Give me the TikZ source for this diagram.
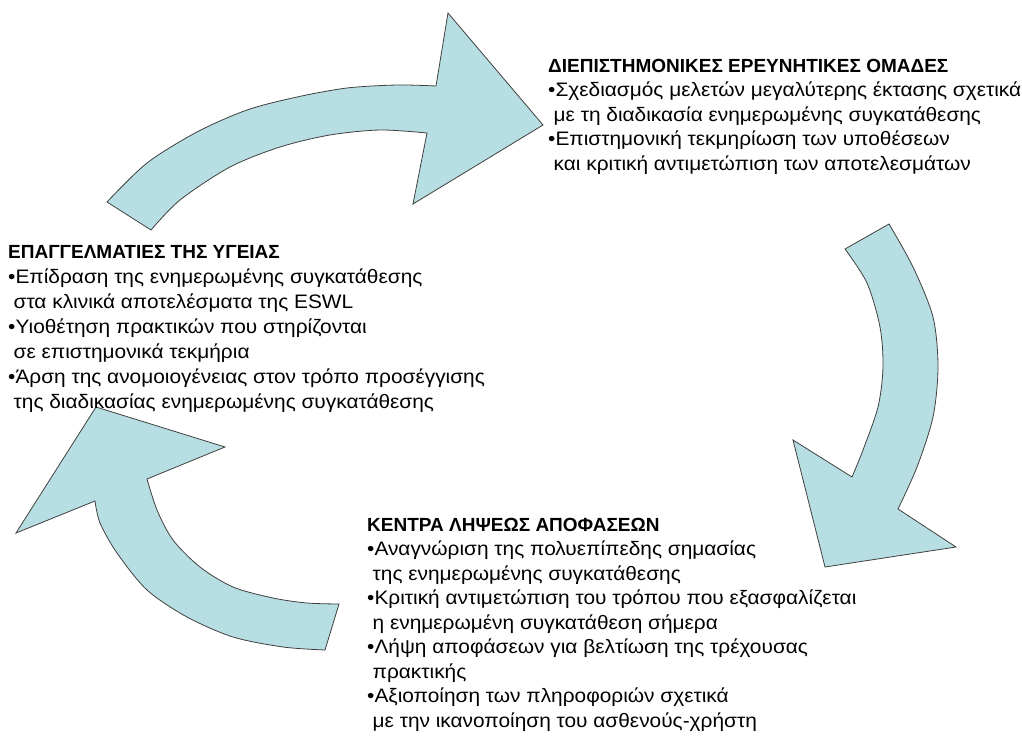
\documentclass[tikz,border=0pt]{standalone}
\usepackage{fontspec}
\setmainfont{Liberation Sans}[FakeStretch=1.07]
\newfontfamily\headfont{Liberation Sans}
\usetikzlibrary{positioning}
\definecolor{arrowfill}{RGB}{183,222,226}
\definecolor{arrowline}{RGB}{64,64,64}
\tikzset{
    cyclearrow/.style={fill=arrowfill, draw=arrowline, line width=0.8pt, line join=miter},
    infoblock/.style={anchor=north west, inner sep=0pt, align=left, font=\fontsize{19.5}{24.5}\selectfont}
}
\newcommand{\cont}{\hspace*{0.28em}}
\newcommand{\heading}[1]{{\headfont\bfseries\fontsize{19}{24}\selectfont #1}}

\begin{document}
\begin{tikzpicture}[x=1pt, y=-1pt]
    \useasboundingbox (0,0) rectangle (1022,738);

    \draw[cyclearrow] (107,202) -- plot[smooth] coordinates {(107,202) (147,163) (197,132) (247,110) (297,97) (347,88) (397,85) (436,86)}
        -- (448,13) -- (543,125) -- (413,204) -- (427,133)
        -- plot[smooth] coordinates {(427,133) (380,130) (330,135) (280,147) (230,167) (180,200) (151,230)} -- cycle;

    \draw[cyclearrow] (889,224) -- plot[smooth] coordinates {(889,224) (913,267) (933,317) (938,367) (933,417) (917,467) (898,509)}
        -- (956,547) -- (825,567) -- (793,440) -- (852,477)
        -- plot[smooth] coordinates {(852,477) (863,450) (878,407) (883,367) (880,327) (867,283) (845,249)} -- cycle;

    \draw[cyclearrow] (339,604) -- plot[smooth] coordinates {(339,604) (307,603) (273,598) (233,587) (200,567) (173,540) (157,510) (147,479)}
        -- (225,447) -- (96,407) -- (16,533) -- (95,501)
        -- plot[smooth] coordinates {(95,501) (100,523) (117,553) (147,590) (187,617) (233,637) (283,647) (325,650)} -- cycle;

    \node[infoblock] (research) at (548,59) {\heading{ΔΙΕΠΙΣΤΗΜΟΝΙΚΕΣ ΕΡΕΥΝΗΤΙΚΕΣ ΟΜΑΔΕΣ}\\
        •Σχεδιασμός μελετών μεγαλύτερης έκτασης σχετικά\\
        \cont με τη διαδικασία ενημερωμένης συγκατάθεσης\\
        •Επιστημονική τεκμηρίωση των υποθέσεων\\
        \cont και κριτική αντιμετώπιση των αποτελεσμάτων};

    \node[infoblock, font=\fontsize{19.5}{25}\selectfont] (health) at (8,245) {\heading{ΕΠΑΓΓΕΛΜΑΤΙΕΣ ΤΗΣ ΥΓΕΙΑΣ}\\
        •Επίδραση της ενημερωμένης συγκατάθεσης\\
        \cont στα κλινικά αποτελέσματα της ESWL\\
        •Υιοθέτηση πρακτικών που στηρίζονται\\
        \cont σε επιστημονικά τεκμήρια\\
        •Άρση της ανομοιογένειας στον τρόπο προσέγγισης\\
        \cont της διαδικασίας ενημερωμένης συγκατάθεσης};

    \node[infoblock] (decision) at (367,518) {\heading{ΚΕΝΤΡΑ ΛΗΨΕΩΣ ΑΠΟΦΑΣΕΩΝ}\\
        •Αναγνώριση της πολυεπίπεδης σημασίας\\
        \cont της ενημερωμένης συγκατάθεσης\\
        •Κριτική αντιμετώπιση του τρόπου που εξασφαλίζεται\\
        \cont η ενημερωμένη συγκατάθεση σήμερα\\
        •Λήψη αποφάσεων για βελτίωση της τρέχουσας\\
        \cont πρακτικής\\
        •Αξιοποίηση των πληροφοριών σχετικά\\
        \cont με την ικανοποίηση του ασθενούς-χρήστη};
\end{tikzpicture}
\end{document}
